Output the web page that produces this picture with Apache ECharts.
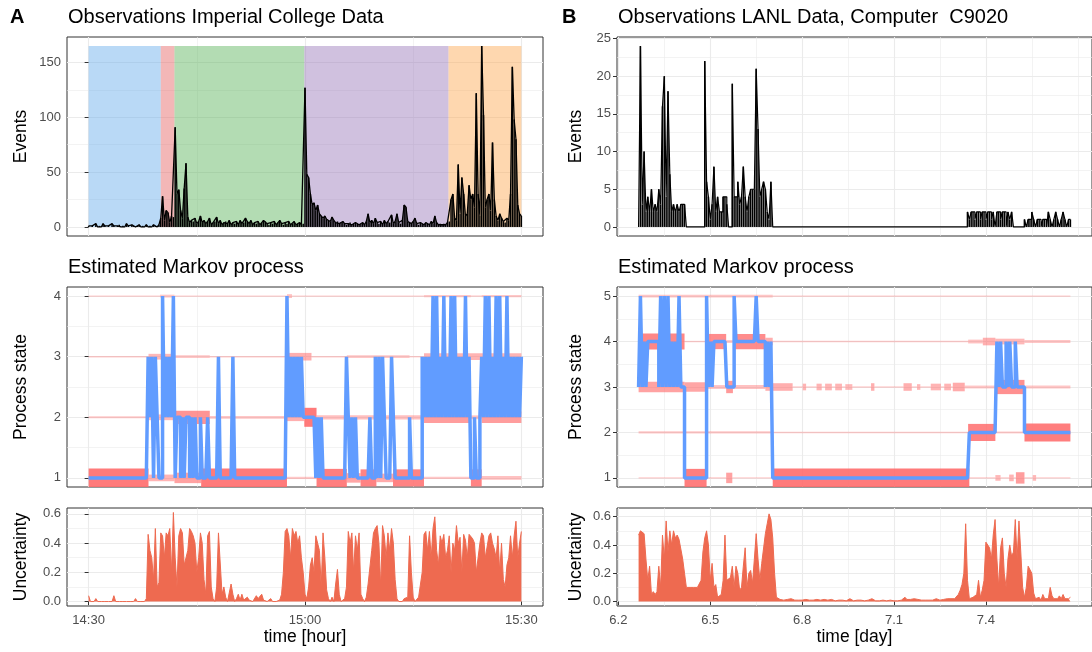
<!DOCTYPE html>
<html><head><meta charset="utf-8">
<script src="https://cdn.jsdelivr.net/npm/echarts@6/dist/echarts.min.js"></script>
<style>html,body{margin:0;padding:0;background:#fff}#chart{width:1092px;height:652px}</style>
</head><body><div id="chart"></div>
<script>
const FONT = '"Liberation Sans", Arial, Helvetica, sans-serif';

// ---------- Panel A (Imperial College), time in minutes after 14:30, step 0.25 min ----------
const A_STEP = 0.25;
const xTickValsA = [0, 30, 60];
const xTickLabelsA = ['14:30', '15:00', '15:30'];
const xMinorA = [15, 45];

const regionStartA = [0, 10.0, 11.9, 29.9, 49.9];
const regionEndA   = [10.0, 11.9, 29.9, 49.9, 60];
const regionTopA = 165;

const eventsA = [
 1,0,1,0,3,0,1,0,3,1,0,1,0,3,1,0,1,2,0,1,
 0,3,1,0,2,1,0,1,2,0,1,0,2,0,1,0,2,1,0,2,
 8,28,6,15,13,4,10,9,91,30,34,15,8,35,58,9,4,6,5,8,
 3,5,10,4,6,3,5,8,2,4,5,9,3,6,2,4,5,3,6,2,
 4,3,5,2,6,3,4,8,5,3,6,2,4,3,5,2,4,6,5,3,
 2,4,3,5,2,4,6,3,2,4,3,5,2,3,5,2,3,4,2,3,
 127,48,45,30,20,22,15,20,12,10,8,10,7,6,5,9,6,4,5,3,
 4,5,3,2,3,4,2,3,4,3,2,3,4,2,5,12,4,6,3,8,
 4,3,5,2,6,3,5,4,11,3,5,12,4,3,6,20,18,5,4,3,
 5,8,3,2,4,3,2,4,3,2,5,3,10,4,2,3,2,3,2,4,
 5,25,30,8,6,57,12,45,30,10,12,38,25,30,18,122,30,10,165,102,
 18,25,30,15,77,25,10,6,12,8,5,4,8,6,30,146,98,80,20,12,10
];

const stateA = [
 1,1,1,1,1,1,1,1,1,1,1,1,1,1,1,1,1,1,1,1,
 1,1,1,1,1,1,1,1,1,1,1,1,1,3,2,3,1,3,2,1,
 1,4,2,3,2,3,2,4,1,2,2,1,2,1,2,2,1,2,1,2,
 1,1,2,1,1,1,2,1,1,1,1,1,3,1,1,1,1,1,1,1,
 3,1,1,1,1,1,1,1,1,1,1,1,1,1,1,1,1,1,1,1,
 1,1,1,1,1,1,1,1,1,1,4,2,3,2,3,2,3,2,3,2,
 2,2,2,2,2,2,1,2,1,2,1,1,1,1,1,1,1,1,1,1,
 1,1,1,3,2,1,2,1,2,1,1,1,1,1,1,1,2,1,1,3,
 1,3,1,3,2,1,1,1,3,2,1,1,1,1,1,1,1,1,2,1,
 1,1,1,1,1,3,2,3,2,3,2,4,2,4,2,3,2,4,2,3,
 2,4,2,4,2,3,2,3,2,4,2,3,1,1,2,1,1,2,3,2,
 4,2,4,2,3,2,4,2,4,2,3,2,4,2,3,2,3,2,3,2,3
];

const uncA = [
 0.04,0,0,0,0.02,0,0,0,0,0,0,0,0,0,0.04,0,0,0,0,0,
 0,0,0,0,0,0,0.02,0,0,0,0,0,0.02,0.46,0.35,0.3,0.15,0.5,0.1,0.13,
 0.47,0.45,0.3,0.47,0.45,0.5,0.2,0.61,0.3,0.1,0.45,0.5,0.47,0.25,0.3,0.35,0.5,0.48,0.45,0.4,
 0.2,0.3,0.47,0.4,0.15,0.05,0.45,0.48,0.1,0.02,0,0.1,0.47,0.48,0.05,0.1,0.03,0,0,0.12,
 0.05,0,0.02,0.05,0.01,0.05,0.01,0,0.03,0.01,0,0,0.01,0.04,0.02,0.02,0.05,0.01,0,0,
 0.01,0.02,0,0,0,0,0.01,0.05,0.2,0.48,0.5,0.45,0.3,0.5,0.45,0.48,0.4,0.45,0.3,0.2,
 0.05,0.02,0.1,0.25,0.3,0.2,0.45,0.4,0.35,0.1,0.47,0.3,0.08,0.02,0,0.03,0,0.12,0.22,0.05,
 0,0,0.02,0.1,0.48,0.4,0.47,0.2,0.45,0.35,0.47,0.05,0.02,0,0.03,0.12,0.12,0.35,0.47,0.5,
 0.52,0.4,0.1,0.52,0.45,0.3,0.47,0.35,0.5,0.4,0.15,0.02,0,0,0,0.02,0.03,0.03,0.45,0.2,
 0.03,0,0,0.03,0.03,0.2,0.46,0.48,0.35,0.48,0.3,0.5,0.58,0.35,0.25,0.45,0.4,0.46,0.3,0.35,
 0.45,0.2,0.4,0.35,0.52,0.4,0.44,0.2,0.46,0.42,0.3,0.46,0.45,0.43,0.4,0.2,0.3,0.4,0.47,0.45,
 0.3,0.3,0.45,0.47,0.4,0.36,0.3,0.45,0.2,0.4,0.15,0.1,0.25,0.3,0.45,0.3,0.45,0.55,0.3,0.4,0.48
];

// posterior-probability bands: [start minute, end minute, probability]
const bandA1 = [[0,8.3,1],[8.3,11.9,0.35],[11.9,15.6,0.55],[15.6,27.5,1],[27.5,31.6,0.12],[31.6,35.8,0.95],[35.8,37.7,0.5],[37.7,39.9,0.9],[39.9,42.2,0.45],[42.2,46.5,0.9],[46.5,53.0,0.12],[53.0,54.5,0.9],[54.5,60,0.2]];
const bandA2 = [[0,8.3,0.1],[8.3,11.9,0.3],[11.9,16.8,0.7],[16.8,27.5,0.15],[27.5,29.9,0.4],[29.9,31.6,1],[31.6,46.5,0.22],[46.5,53.0,0.6],[53.0,54.5,0.2],[54.5,60,0.6]];
const bandA3 = [[0,8.3,0.05],[8.3,11.9,0.3],[11.9,16.8,0.15],[16.8,27.5,0.05],[27.5,30.9,0.4],[30.9,35.8,0.05],[35.8,44.5,0.15],[44.5,46.5,0.05],[46.5,60,0.35]];
const bandA4 = [[0,9.9,0.04],[9.9,11.9,0.15],[11.9,27.5,0.04],[27.5,28.2,0.2],[28.2,46.5,0.04],[46.5,53.0,0.12],[53.0,54.5,0.04],[54.5,60,0.12]];

// ---------- Panel B (LANL), time in days, step 0.006 day ----------
const B_START = 6.266, B_STEP = 0.006;
const xTickValsB = [6.2, 6.5, 6.8, 7.1, 7.4];
const xMinorB = [6.35, 6.65, 6.95, 7.25, 7.55, 7.7];

const eventsB = [
 0,
 24,3,10,2,4,2,5,2,3,2,5,3,16,20,4,18,7,2,3,2,3,2,3,3,3,
 0,0,0,0,0,0,0,0,0,0,
 22,6,4,1,3,8,2,4,2,2,4,4,3,
 0,0,
 19,4,4,6,3,4,8,4,2,4,5,5,5,21,13,4,5,6,5,2,1,6,
 0,0,0,0,0,0,0,0,0,0, 0,0,0,0,0,0,0,0,0,0, 0,0,0,0,0,0,0,0,0,0, 0,0,0,0,0,0,0,0,0,0,
 0,0,0,0,0,0,0,0,0,0, 0,0,0,0,0,0,0,0,0,0, 0,0,0,0,0,0,0,0,0,0, 0,0,0,0,0,0,0,0,0,0,
 0,0,0,0,0,0,0,0,0,0, 0,0,0,0,0,0,0,0,0,0, 0,0,0,0,0,0,
 2,1,2,2,1,2,2,1,2,2,1,2,2,1,2,0,2,2,1,2,2,0,2,1,2,0,
 0,0,0,0,0,
 1,0,1,1,2,1,0,1,1,0,1,1,0,2,1,0,1,2,1,0,1,2,1,0,1,1
];

const stateB = [
 3,5,3,4,3,4,4,4,4,4,4,3,5,3,5,3,5,3,4,3,4,3,5,3,3,
 1,1,1,1,1,1,1,1,1,1,1,1,
 5,3,4,3,
 4,4,4,4,4,4,4,
 3,3,3,3,
 5,
 4,4,4,4,4,4,4,4,4,4,4,
 5,
 4,4,4,4,
 3,4,3,4,
 1,1,1,1,1,1,1,1,1,1, 1,1,1,1,1,1,1,1,1,1, 1,1,1,1,1,1,1,1,1,1, 1,1,1,1,1,1,1,1,1,1,
 1,1,1,1,1,1,1,1,1,1, 1,1,1,1,1,1,1,1,1,1, 1,1,1,1,1,1,1,1,1,1, 1,1,1,1,1,1,1,1,1,1,
 1,1,1,1,1,1,1,1,1,1, 1,1,1,1,1,1,1,1,1,1, 1,1,1,1,1,1,1,
 2,2,2,2,2,2,2,2,2,2,2,2,2,2,2,
 4,3,4,3,3,4,3,4,3,3,4,
 3,3,3,3,
 2,2,2,2,2,2,2,2,2,2,2,2,2,2,2,2,2,2,2,2,2,2,2,2,2,2
];

const uncB = [
 0.47,0.5,0.49,0.48,0.3,0.15,0.25,0.05,0.07,0.05,
 0.07,0.25,0.1,0.47,0.3,0.57,0.35,0.5,0.4,0.5,
 0.45,0.47,0.44,0.43,0.3,0.2,0.1,0.09,0.1,0.09,
 0.1,0.09,0.1,0.1,0.15,0.35,0.45,0.5,0.4,0.15,
 0.27,0.1,0.12,0.03,0.03,0.05,0.15,0.47,0.15,0.15,
 0.17,0.25,0.1,0.25,0.2,0.08,0.1,0.25,0.38,0.1,
 0.2,0.22,0.13,0.3,0.48,0.3,0.15,0.27,0.28,0.48,
 0.55,0.62,0.58,0.45,0.2,0.03,
 0.02,0.015,0.02,0.01,0.02,0.015,0.01,0.02,0.015,0.01,
 0.015,0.01,0.02,0.01,0.01,0.015,0.01,0.01,0.02,0.01,
 0.01,0.015,0.01,0.01,0.01,0.015,0.01,0.01,0.01,0.015,
 0.01,0.005,0.01,0.01,0.005,0.01,0.01,0.005,0.01,0.02,
 0.01,0.005,0.01,0.01,0.005,0.01,0.01,0.005,0.01,0.01,
 0.015,0.02,0.01,0.005,0.01,0.005,0.005,0.01,0.005,0.005,
 0.005,0.01,0.005,0.005,0.01,0.005,0.01,0.01,0.02,0.03,
 0.015,0.01,0.015,0.01,0.02,0.01,0.015,0.02,0.01,0.015,
 0.01,0.02,0.01,0.015,0.01,0.01,0.02,0.015,0.01,0.02,
 0.015,0.01,0.02,0.015,0.02,0.02,
 0.02,0.03,0.05,0.08,0.12,0.2,0.55,0.15,0.02,0.02,
 0.03,0.02,0.05,0.15,0.03,0.08,0.15,0.42,0.42,0.38,
 0.3,0.47,0.58,0.3,0.1,0.38,0.45,0.2,0.1,0.3,
 0.4,0.32,0.35,0.58,0.3,0.57,0.35,0.1,0.03,0.1,
 0.25,0.26,0.2,0.06,0.02,
 0.02,0.03,0.01,0.05,0.02,0.03,0.02,0.1,0.04,0.02,0.03,0.02,0.04,0.02,0.05,0.02,0.01,0.02,0.03
];

// posterior-probability bands: [start day, end day, probability]
const bandB1 = [[6.266,6.416,0.06],[6.416,6.488,0.95],[6.488,6.552,0.05],[6.552,6.572,0.55],[6.572,6.704,0.04],[6.704,7.346,1],[7.346,7.431,0.05],[7.431,7.448,0.3],[7.448,7.476,0.05],[7.476,7.491,0.35],[7.491,7.498,0.05],[7.498,7.526,0.6],[7.526,7.553,0.05],[7.553,7.564,0.3],[7.564,7.676,0.05]];
const bandB2 = [[6.266,6.704,0.12],[6.704,7.342,0.04],[7.342,7.431,0.9],[7.431,7.526,0.1],[7.526,7.676,0.95]];
const bandB3 = [[6.266,6.416,0.55],[6.416,6.488,0.5],[6.488,6.552,0.2],[6.552,6.574,0.65],[6.574,6.68,0.2],[6.68,6.769,0.4],[6.769,6.802,0.05],[6.802,6.813,0.35],[6.813,6.847,0.05],[6.847,6.864,0.35],[6.864,6.875,0.05],[6.875,6.897,0.35],[6.897,6.908,0.05],[6.908,6.93,0.35],[6.93,6.941,0.05],[6.941,6.964,0.3],[6.964,7.025,0.05],[7.025,7.036,0.4],[7.036,7.131,0.05],[7.131,7.158,0.4],[7.158,7.175,0.05],[7.175,7.186,0.3],[7.186,7.22,0.05],[7.22,7.253,0.35],[7.253,7.264,0.05],[7.264,7.286,0.35],[7.286,7.292,0.05],[7.292,7.331,0.45],[7.331,7.431,0.15],[7.431,7.526,0.75],[7.526,7.676,0.15]];
const bandB4 = [[6.266,6.416,0.85],[6.416,6.488,0.05],[6.488,6.552,0.8],[6.552,6.574,0.15],[6.574,6.68,0.8],[6.68,6.704,0.4],[6.704,7.342,0.05],[7.342,7.39,0.2],[7.39,7.431,0.4],[7.431,7.526,0.3],[7.526,7.676,0.15]];
const bandB5 = [[6.266,6.704,0.15],[6.704,7.676,0.06]];

// ---------- build ----------
const ptsA = v => v.map((y, i) => [i * A_STEP, y]);
const ptsB = v => v.map((y, i) => [Math.round((B_START + i * B_STEP) * 10000) / 10000, y]);
const bandRows = (lists) => {
  const out = [];
  lists.forEach((list, k) => list.forEach(s => out.push([s[0], s[1], k + 1, s[2]])));
  return out;
};
const bandsA = bandRows([bandA1, bandA2, bandA3, bandA4]);
const bandsB = bandRows([bandB1, bandB2, bandB3, bandB4, bandB5]);

const regionColorA = ['rgba(99,171,235,0.45)', 'rgba(228,95,95,0.45)', 'rgba(86,177,86,0.45)', 'rgba(151,117,184,0.45)', 'rgba(253,166,77,0.45)'];

function renderBand(params, api) {
  const t0 = api.value(0), t1 = api.value(1), s = api.value(2), p = api.value(3);
  const a = api.coord([t0, s]), b = api.coord([t1, s]);
  const h = Math.max(1.4, p * 19);
  const cs = params.coordSys;
  const shape = echarts.graphic.clipRectByRect(
    {x: a[0], y: a[1] - h / 2, width: b[0] - a[0], height: h},
    {x: cs.x, y: cs.y, width: cs.width, height: cs.height});
  if (!shape) return;
  return {type: 'rect', shape: shape, style: {fill: '#FF6B6B', opacity: 0.3 + 0.6 * p}};
}

const grids = [
  {left: 67, top: 37, width: 476, height: 199},
  {left: 67, top: 287, width: 476, height: 200},
  {left: 67, top: 508, width: 476, height: 98},
  {left: 617, top: 37, width: 480, height: 199},
  {left: 617, top: 287, width: 480, height: 200},
  {left: 617, top: 508, width: 480, height: 98}
].map(g => Object.assign(g, {show: true, borderColor: '#333333', borderWidth: 1, backgroundColor: 'transparent'}));

const xAxes = [], yAxes = [];
const labelStyle = {color: '#4D4D4D', fontSize: 13, fontFamily: FONT};
const nameStyle = {color: '#000', fontSize: 17.5, fontFamily: FONT};
function addPanel(g, cfg) {
  xAxes.push({type: 'value', gridIndex: g, min: cfg.xr[0], max: cfg.xr[1], position: 'bottom',
    axisLine: {show: false},
    axisTick: {show: !!cfg.showX, customValues: cfg.xMajor, length: 4, lineStyle: {color: '#333333', width: 1}},
    axisLabel: Object.assign({show: !!cfg.showX, customValues: cfg.xMajor, formatter: cfg.xFmt, margin: 8}, labelStyle),
    splitLine: {show: true, lineStyle: {color: '#EBEBEB', width: 1.1}},
    name: cfg.xName || '', nameLocation: 'middle', nameGap: 22, nameTextStyle: nameStyle});
  xAxes.push({type: 'value', gridIndex: g, min: cfg.xr[0], max: cfg.xr[1], position: 'top',
    axisLine: {show: false}, axisTick: {show: false, customValues: cfg.xMinor},
    axisLabel: {show: false, customValues: cfg.xMinor},
    splitLine: {show: true, lineStyle: {color: '#EBEBEB', width: 0.6}}});
  yAxes.push({type: 'value', gridIndex: g, min: cfg.yr[0], max: cfg.yr[1], position: 'left',
    axisLine: {show: false},
    axisTick: {show: true, customValues: cfg.yMajor, length: 4, lineStyle: {color: '#333333', width: 1}},
    axisLabel: Object.assign({show: true, customValues: cfg.yMajor, formatter: cfg.yFmt, margin: 6}, labelStyle),
    splitLine: {show: true, lineStyle: {color: '#EBEBEB', width: 1.1}},
    name: cfg.yName, nameLocation: 'middle', nameGap: cfg.yGap, nameTextStyle: nameStyle});
  yAxes.push({type: 'value', gridIndex: g, min: cfg.yr[0], max: cfg.yr[1], position: 'right',
    axisLine: {show: false}, axisTick: {show: false, customValues: cfg.yMinor},
    axisLabel: {show: false, customValues: cfg.yMinor},
    splitLine: {show: true, lineStyle: {color: '#EBEBEB', width: 0.6}}});
}
const fmtA = v => xTickLabelsA[xTickValsA.indexOf(Math.round(v))] || '';
const fmtB = v => (+v).toFixed(1);
const fmt1 = v => (+v).toFixed(1);
const fmt0 = v => String(Math.round(v));

addPanel(0, {xr: [-3, 63], xMajor: xTickValsA, xMinor: xMinorA, yr: [-8.25, 173.25], yMajor: [0, 50, 100, 150], yMinor: [25, 75, 125], yFmt: fmt0, yName: 'Events', yGap: 37});
addPanel(1, {xr: [-3, 63], xMajor: xTickValsA, xMinor: xMinorA, yr: [0.85, 4.15], yMajor: [1, 2, 3, 4], yMinor: [1.5, 2.5, 3.5], yFmt: fmt0, yName: 'Process state', yGap: 37});
addPanel(2, {xr: [-3, 63], xMajor: xTickValsA, xMinor: xMinorA, yr: [-0.0305, 0.6405], yMajor: [0, 0.2, 0.4, 0.6], yMinor: [0.1, 0.3, 0.5], yFmt: fmt1, yName: 'Uncertainty', yGap: 37, showX: true, xFmt: fmtA, xName: 'time [hour]'});
addPanel(3, {xr: [6.1955, 7.7465], xMajor: xTickValsB, xMinor: xMinorB, yr: [-1.2, 25.2], yMajor: [0, 5, 10, 15, 20, 25], yMinor: [2.5, 7.5, 12.5, 17.5, 22.5], yFmt: fmt0, yName: 'Events', yGap: 32});
addPanel(4, {xr: [6.1955, 7.7465], xMajor: xTickValsB, xMinor: xMinorB, yr: [0.8, 5.2], yMajor: [1, 2, 3, 4, 5], yMinor: [1.5, 2.5, 3.5, 4.5], yFmt: fmt0, yName: 'Process state', yGap: 32});
addPanel(5, {xr: [6.1955, 7.7465], xMajor: xTickValsB, xMinor: xMinorB, yr: [-0.0315, 0.6615], yMajor: [0, 0.2, 0.4, 0.6], yMinor: [0.1, 0.3, 0.5], yFmt: fmt1, yName: 'Uncertainty', yGap: 32, showX: true, xFmt: fmtB, xName: 'time [day]'});

const titleStyle = {fontSize: 20, fontWeight: 'normal', color: '#000', fontFamily: FONT};
const tagStyle = {fontSize: 20, fontWeight: 'bold', color: '#000', fontFamily: FONT};

const option = {
  animation: false,
  backgroundColor: '#fff',
  title: [
    {text: 'A', left: 10, top: 7, padding: 0, textStyle: tagStyle},
    {text: 'Observations Imperial College Data', left: 68, top: 7, padding: 0, textStyle: titleStyle},
    {text: 'Estimated Markov process', left: 68, top: 257, padding: 0, textStyle: titleStyle},
    {text: 'B', left: 562, top: 7, padding: 0, textStyle: tagStyle},
    {text: 'Observations LANL Data, Computer  C9020', left: 618, top: 7, padding: 0, textStyle: titleStyle},
    {text: 'Estimated Markov process', left: 618, top: 257, padding: 0, textStyle: titleStyle}
  ],
  grid: grids,
  xAxis: xAxes,
  yAxis: yAxes,
  series: [
    {type: 'bar', xAxisIndex: 0, yAxisIndex: 0, data: ptsA(eventsA), barWidth: 1.5, silent: true, z: 3,
     itemStyle: {color: '#000'},
     markArea: {silent: true, data: regionStartA.map((s, i) => [
       {xAxis: s, yAxis: 0, itemStyle: {color: regionColorA[i]}},
       {xAxis: regionEndA[i], yAxis: regionTopA}])}},
    {type: 'line', xAxisIndex: 0, yAxisIndex: 0, data: ptsA(eventsA), symbol: 'none', silent: true, z: 3,
     lineStyle: {color: '#000', width: 1.3}},
    {type: 'custom', xAxisIndex: 2, yAxisIndex: 2, data: bandsA, renderItem: renderBand, encode: {x: [0, 1], y: 2}, silent: true, z: 2},
    {type: 'line', xAxisIndex: 2, yAxisIndex: 2, data: ptsA(stateA), step: 'end', symbol: 'none', silent: true, z: 3,
     lineStyle: {color: '#619CFF', width: 3.5}},
    {type: 'line', xAxisIndex: 4, yAxisIndex: 4, data: ptsA(uncA), symbol: 'none', silent: true, z: 3,
     lineStyle: {color: '#EE6A50', width: 1}, areaStyle: {color: '#EE6A50', opacity: 1}},
    {type: 'bar', xAxisIndex: 6, yAxisIndex: 6, data: ptsB(eventsB), barWidth: 1.5, silent: true, z: 3,
     itemStyle: {color: '#000'}},
    {type: 'line', xAxisIndex: 6, yAxisIndex: 6, data: ptsB(eventsB), step: 'end', symbol: 'none', silent: true, z: 3,
     lineStyle: {color: '#000', width: 1.2}},
    {type: 'custom', xAxisIndex: 8, yAxisIndex: 8, data: bandsB, renderItem: renderBand, encode: {x: [0, 1], y: 2}, silent: true, z: 2},
    {type: 'line', xAxisIndex: 8, yAxisIndex: 8, data: ptsB(stateB), step: 'end', symbol: 'none', silent: true, z: 3,
     lineStyle: {color: '#619CFF', width: 3.5}},
    {type: 'line', xAxisIndex: 10, yAxisIndex: 10, data: ptsB(uncB), symbol: 'none', silent: true, z: 3,
     lineStyle: {color: '#EE6A50', width: 1}, areaStyle: {color: '#EE6A50', opacity: 1}}
  ]
};
const chart = echarts.init(document.getElementById('chart'), null, {renderer: 'canvas'});
chart.setOption(option);
</script></body></html>
